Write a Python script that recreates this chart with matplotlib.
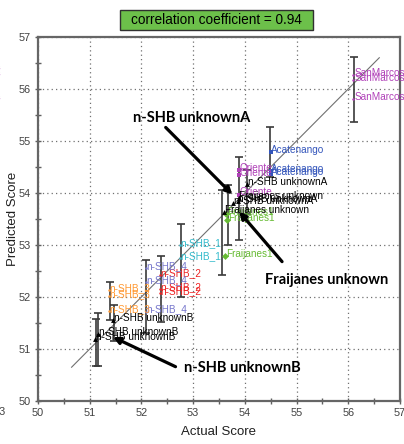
import matplotlib
matplotlib.use('Agg')
import matplotlib.pyplot as plt
from matplotlib.patches import Rectangle
from matplotlib.ticker import MultipleLocator

# points: (label, actual, predicted)
pt_label = ['SanMarcos', 'SanMarcos', 'SanMarcos',
            'Acatenango', 'Acatenango', 'Acatenango',
            'Oriente', 'Oriente', 'Oriente',
            'Fraijanes1', 'Fraijanes1', 'Fraijanes1',
            'n-SHB_1', 'n-SHB_1',
            'n-SHB_2', 'n-SHB_2', 'n-SHB_2',
            'n-SHB_4', 'n-SHB_4', 'n-SHB_4',
            'n-SHB_3', 'n-SHB_3', 'n-SHB_3',
            'n-SHB unknownA', 'n-SHB unknownA', 'n-SHB unknownA',
            'Fraijanes unknown', 'Fraijanes unknown',
            'n-SHB unknownB', 'n-SHB unknownB', 'n-SHB unknownB']
pt_x = [56.10, 56.10, 56.10,
        54.50, 54.50, 54.50,
        53.88, 53.88, 53.88,
        53.64, 53.66, 53.62,
        52.74, 52.74,
        52.36, 52.36, 52.36,
        52.08, 52.08, 52.08,
        51.37, 51.37, 51.37,
        54.05, 53.86, 53.78,
        53.88, 53.60,
        51.45, 51.17, 51.11]
pt_y = [56.27, 56.17, 55.80,
        54.78, 54.42, 54.37,
        54.44, 54.35, 53.97,
        53.60, 53.48, 52.78,
        53.00, 52.75,
        52.42, 52.15, 52.07,
        52.55, 52.28, 51.72,
        52.14, 52.02, 51.73,
        54.17, 53.84, 53.80,
        53.90, 53.63,
        51.55, 51.28, 51.20]

group_color = {'SanMarcos': '#b040b8', 'Acatenango': '#3355bb',
               'Oriente': '#b040b8', 'Fraijanes1': '#66bb33',
               'n-SHB_1': '#33bbcc', 'n-SHB_2': '#ee2222',
               'n-SHB_3': '#ff9933', 'n-SHB_4': '#7777cc',
               'n-SHB unknownA': 'black', 'Fraijanes unknown': 'black',
               'n-SHB unknownB': 'black'}
group_marker = {'SanMarcos': '.', 'Acatenango': 's', 'Oriente': 's',
                'Fraijanes1': 'D', 'n-SHB_1': '.', 'n-SHB_2': '.',
                'n-SHB_3': '.', 'n-SHB_4': '.', 'n-SHB unknownA': '^',
                'Fraijanes unknown': '^', 'n-SHB unknownB': '^'}

# error bars: x, low, high
eb_x = [56.11, 54.49, 53.89, 54.05, 53.68, 53.56, 52.76, 52.37, 52.09,
        51.39, 51.47, 51.12, 51.17]
eb_low = [55.36, 54.30, 53.10, 53.60, 53.00, 52.43, 52.00, 51.52, 51.31,
          51.56, 51.15, 50.67, 50.67]
eb_high = [56.61, 55.27, 54.70, 54.45, 54.15, 54.06, 53.40, 52.79, 52.72,
           52.29, 51.85, 51.58, 51.70]

# fitted line ends
fit_x = [50.65, 56.60]
fit_y = [50.65, 56.60]

# arrows: text, text pos, tail, head
arrow_text = ['n-SHB unknownA', 'Fraijanes unknown', 'n-SHB unknownB']
arrow_text_xy = [(52.97, 55.45), (55.59, 52.33), (53.95, 50.64)]
arrow_tail = [(52.47, 55.26), (54.72, 52.68), (52.66, 50.66)]
arrow_head = [(53.76, 53.97), (53.89, 53.64), (51.45, 51.23)]

fig = plt.figure(figsize=(4.04, 4.44), dpi=100)
ax = fig.add_axes([0.094, 0.0968, 0.896, 0.82])

ax.plot(fit_x, fit_y, color='#707070', lw=0.8, zorder=2)

for x, lo, hi in zip(eb_x, eb_low, eb_high):
    mid = (lo + hi) / 2.
    ax.errorbar([x], [mid], yerr=[[mid - lo], [hi - mid]], fmt='none',
                ecolor='#3a3a3a', elinewidth=1.2, capsize=3, capthick=1.2,
                zorder=3)

for lab, x, y in zip(pt_label, pt_x, pt_y):
    c = group_color[lab]
    ax.plot(x, y, group_marker[lab], color=c, ms=3.5, mew=0, zorder=4)
    ax.annotate(lab, (x, y), xytext=(0.5, 1.5), textcoords='offset points',
                ha='left', va='center', color=c, fontsize=7.2,
                family='Liberation Sans', zorder=5)

for t, txy, tail, head in zip(arrow_text, arrow_text_xy, arrow_tail, arrow_head):
    ax.annotate('', xy=head, xytext=tail,
                arrowprops=dict(arrowstyle='-|>', lw=2.3, color='black',
                                mutation_scale=10, shrinkA=0, shrinkB=0),
                zorder=6)
    ax.text(txy[0], txy[1], t, ha='center', va='center', fontsize=10.5,
            fontweight='bold', family='Lato', zorder=6)

ax.set_xlim(50, 57)
ax.set_ylim(50, 57)
ax.xaxis.set_major_locator(MultipleLocator(1))
ax.yaxis.set_major_locator(MultipleLocator(1))
ax.xaxis.set_minor_locator(MultipleLocator(0.5))
ax.yaxis.set_minor_locator(MultipleLocator(0.5))
ax.tick_params(which='both', direction='inout', length=4, width=1,
               color='#606060', labelsize=7.8, labelcolor='#404040', pad=3)
for lbl in ax.get_xticklabels() + ax.get_yticklabels():
    lbl.set_family('Liberation Sans')
ax.grid(True, which='major', color='#707070', lw=0.9, linestyle=(0, (1, 2.5)))
for s in ax.spines.values():
    s.set_color('#666666')
    s.set_linewidth(1.6)

ax.set_xlabel('Actual Score', fontsize=9.5, family='Liberation Sans', color='#202020')
ax.set_ylabel('Predicted Score', fontsize=9.5, family='Liberation Sans', color='#202020')
ax.xaxis.set_label_coords(0.5, -0.068)
ax.yaxis.set_label_coords(-0.052, 0.5)

# green title box
fig.patches.append(Rectangle((120 / 404, 1 - 30 / 444), 193 / 404, 20 / 444,
                             transform=fig.transFigure, facecolor='#6cc04a',
                             edgecolor='#303030', lw=1))
fig.text(216.5 / 404, 1 - 20 / 444, 'correlation coefficient = 0.94',
         ha='center', va='center', fontsize=9.8, family='Liberation Sans')

# bits of the neighbouring panel at the left edge
for yy in [67, 74, 97]:
    fig.text(1.5 / 404, 1 - yy / 444, 'SanMarcos', ha='right', va='center',
             fontsize=6.6, color='#b040b8', family='Liberation Sans')
fig.text(6 / 404, 1 - 412 / 444, '53', ha='right', va='center',
         fontsize=7.8, color='#404040', family='Liberation Sans')

fig.savefig('out.png', dpi=100)
